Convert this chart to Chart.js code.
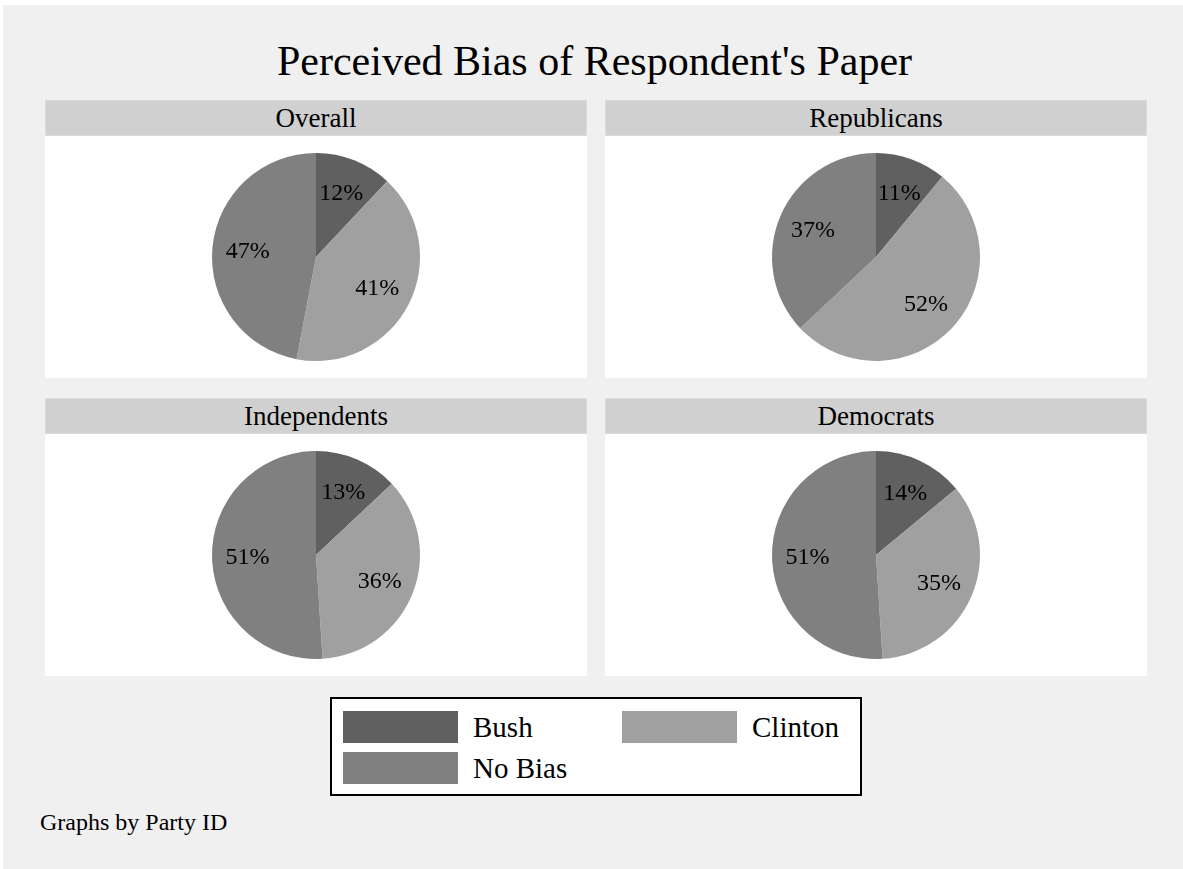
<!DOCTYPE html>
<html>
<head>
<meta charset="utf-8">
<script src="https://cdn.jsdelivr.net/npm/chart.js@4/dist/chart.umd.min.js"></script>
<style>
  html, body { margin: 0; padding: 0; background: #ffffff; }
  body { width: 1183px; height: 869px; position: relative; overflow: hidden; font-family: "Liberation Serif", "DejaVu Serif", serif; }
  #frame { position: absolute; left: 3px; top: 5px; width: 1180px; height: 864px; background: #f0f0f0; }
  #title { position: absolute; left: 0; top: 36px; width: 1189px; text-align: center; font-size: 42px; color: #000; line-height: 50px; }
  .head { position: absolute; width: 540px; height: 34px; background: #d0d0d0; border: 1px solid #dcdcdc; text-align: center; font-size: 27px; line-height: 34px; color: #000; }
  .plot { position: absolute; width: 542px; height: 242px; background: #ffffff; }
  .plot canvas { display: block; }
  #legend { position: absolute; left: 330px; top: 697px; width: 528px; height: 95px; border: 2px solid #000; background: #fff; }
  .sw { position: absolute; width: 115px; height: 32px; }
  .lt { position: absolute; font-size: 29px; line-height: 33px; color: #000; }
  #note { position: absolute; left: 40px; top: 808px; font-size: 24px; line-height: 28px; color: #000; }
</style>
</head>
<body>
<div id="frame"></div>
<div id="title">Perceived Bias of Respondent's Paper</div>
<div id="panels"></div>
<div id="legend"></div>
<div id="note">Graphs by Party ID</div>
<script>
// Survey categories and the share of respondents in each group
const categories = ["Bush", "Clinton", "No Bias"];
const groups = ["Overall", "Republicans", "Independents", "Democrats"];
const overall = [12, 41, 47];
const republicans = [11, 52, 37];
const independents = [13, 36, 51];
const democrats = [14, 35, 51];
const groupValues = [overall, republicans, independents, democrats];
const sliceColors = ["#606060", "#a0a0a0", "#808080"];

// Panel grid: two columns, two rows
const colX = [45, 605];
const headY = [100, 398];

// Percentage labels drawn inside each slice
const sliceLabels = {
  id: "sliceLabels",
  afterDatasetsDraw(chart) {
    const ctx = chart.ctx;
    const meta = chart.getDatasetMeta(0);
    const values = chart.data.datasets[0].data;
    ctx.save();
    ctx.font = '24px "Liberation Serif", serif';
    ctx.fillStyle = "#000";
    ctx.textAlign = "center";
    ctx.textBaseline = "middle";
    meta.data.forEach((arc, i) => {
      const p = arc.getProps(["x", "y", "startAngle", "endAngle", "outerRadius"], true);
      const mid = (p.startAngle + p.endAngle) / 2;
      const r = p.outerRadius * 0.66;
      ctx.fillText(values[i] + "%", p.x + Math.cos(mid) * r, p.y + Math.sin(mid) * r + 1);
    });
    ctx.restore();
  }
};

const panels = document.getElementById("panels");
groups.forEach((name, g) => {
  const x = colX[g % 2];
  const y = headY[Math.floor(g / 2)];
  const head = document.createElement("div");
  head.className = "head";
  head.style.left = x + "px";
  head.style.top = y + "px";
  head.textContent = name;
  panels.appendChild(head);

  const plot = document.createElement("div");
  plot.className = "plot";
  plot.style.left = x + "px";
  plot.style.top = (y + 36) + "px";
  const cv = document.createElement("canvas");
  cv.width = 542; cv.height = 242;
  plot.appendChild(cv);
  panels.appendChild(plot);

  new Chart(cv, {
    type: "pie",
    data: {
      labels: categories,
      datasets: [{
        data: groupValues[g],
        backgroundColor: sliceColors,
        borderWidth: 0,
        radius: 104
      }]
    },
    options: {
      responsive: false,
      animation: false,
      rotation: 0,
      plugins: { legend: { display: false }, tooltip: { enabled: false } },
      events: []
    },
    plugins: [sliceLabels]
  });
});

// Legend entries
const legend = document.getElementById("legend");
const legendPos = [[11, 12], [290, 12], [11, 53]];
categories.forEach((c, i) => {
  const [lx, ly] = legendPos[i];
  const sw = document.createElement("div");
  sw.className = "sw";
  sw.style.left = lx + "px";
  sw.style.top = ly + "px";
  sw.style.background = sliceColors[i];
  legend.appendChild(sw);
  const t = document.createElement("div");
  t.className = "lt";
  t.style.left = (lx + 130) + "px";
  t.style.top = ly + "px";
  t.textContent = c;
  legend.appendChild(t);
});
</script>
</body>
</html>
